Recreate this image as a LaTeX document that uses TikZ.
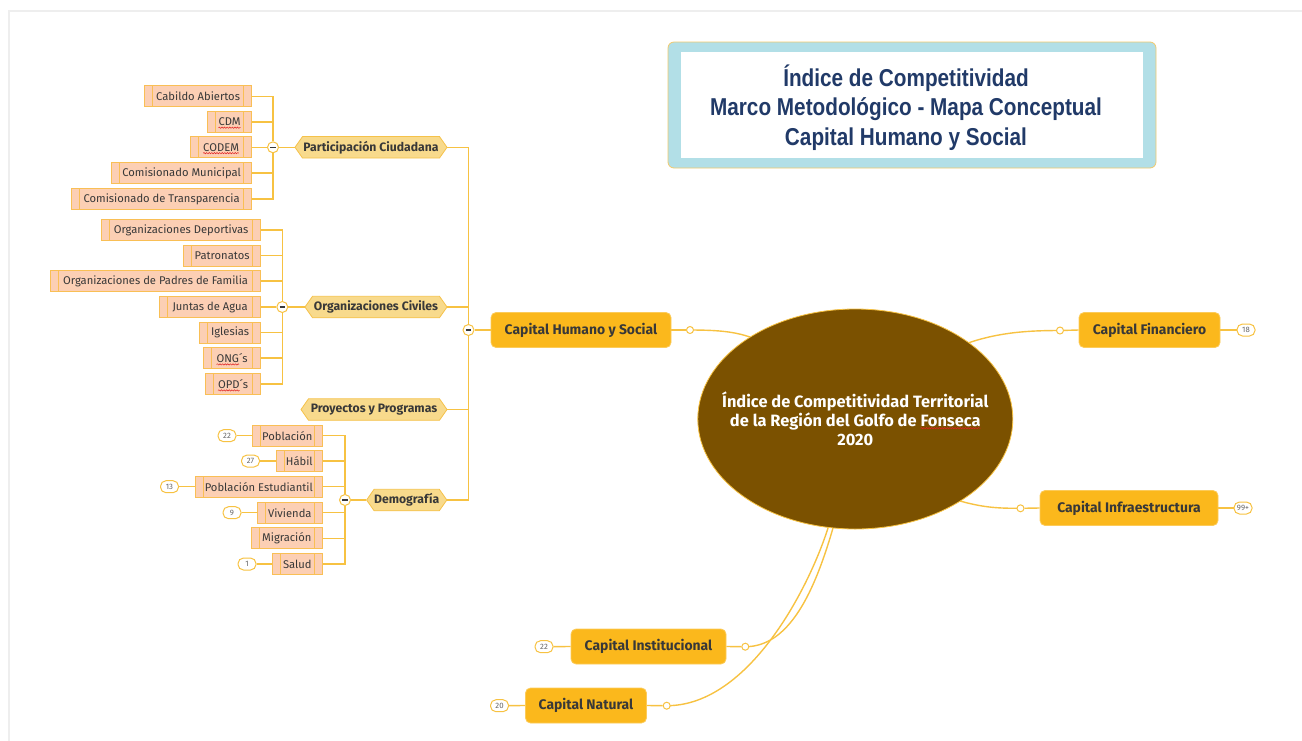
\documentclass[tikz,border=0pt]{standalone}
\usepackage{fontspec}
\setmainfont{Fira Sans}
\newfontfamily\titlefont{Liberation Sans}[FakeStretch=0.85]
\usetikzlibrary{shapes.geometric,shapes.symbols,decorations.pathmorphing}
\pgfdeclarelayer{bg}
\pgfsetlayers{bg,main}
\definecolor{lc}{HTML}{F7C242}
\definecolor{capfill}{HTML}{FBB81C}
\definecolor{capdraw}{HTML}{FCCB5A}
\definecolor{hexfill}{HTML}{F8DA8C}
\definecolor{hexdraw}{HTML}{F5C24A}
\definecolor{leaffill}{HTML}{FCCFB4}
\definecolor{leafdraw}{HTML}{F9BF55}
\definecolor{brownc}{HTML}{7B5100}
\definecolor{titletxt}{HTML}{213A68}
\definecolor{txt}{HTML}{383838}
\definecolor{badgetxt}{HTML}{666666}
\definecolor{tblue}{HTML}{B2DFE7}
\definecolor{tgold}{HTML}{F2C96B}
\definecolor{framegray}{HTML}{EEEEEE}
\definecolor{squigred}{HTML}{E02020}
\newsavebox\sqbox
\newcommand\squig[1]{\sbox\sqbox{#1}\tikz[overlay,baseline=0pt]{\draw[squigred,line width=0.5pt,decorate,decoration={snake,amplitude=0.65pt,segment length=2.6pt}] (0pt,-2pt) -- (\the\wd\sqbox,-2pt);}\usebox\sqbox}
\tikzset{
  conn/.style={draw=lc, line width=1.4pt},
  capbox/.style={rectangle, rounded corners=5pt, fill=capfill, draw=capdraw, line width=0.8pt, text=txt,
    font=\fontsize{13.9}{15}\selectfont\bfseries, minimum height=35pt, inner sep=0pt},
  hexbox/.style={signal, signal to=east and west, signal pointer angle=110, fill=hexfill, draw=hexdraw,
    line width=0.8pt, text=txt, font=\fontsize{12.2}{13}\selectfont\bfseries, minimum height=21.5pt, inner sep=0pt},
  leaf/.style={rectangle, fill=leaffill, draw=leafdraw, line width=0.8pt, text=txt,
    font=\fontsize{11.2}{12}\selectfont, minimum height=21pt, inner sep=0pt,
    path picture={\draw[leafdraw, line width=0.8pt] ([xshift=8pt]path picture bounding box.north west) -- ([xshift=8pt]path picture bounding box.south west);
      \draw[leafdraw, line width=0.8pt] ([xshift=-8pt]path picture bounding box.north east) -- ([xshift=-8pt]path picture bounding box.south east);}},
  badge/.style={rectangle, rounded corners=5.5pt, fill=white, draw=lc, line width=1pt, text=badgetxt,
    font=\fontsize{7.8}{8}\selectfont, minimum height=12pt, minimum width=18pt, inner sep=0pt},
  knob/.style={circle, fill=white, draw=lc, line width=1pt, minimum size=7pt, inner sep=0pt},
  fold/.style={circle, fill=white, draw=lc, line width=1pt, minimum size=11pt, inner sep=0pt,
    path picture={\draw[txt, line width=1.1pt] ([xshift=-2.6pt]path picture bounding box.center) -- ([xshift=2.6pt]path picture bounding box.center);}},
}
\begin{document}
\begin{tikzpicture}[x=1pt,y=-1pt]
\useasboundingbox (0,0) rectangle (1302,740);
\draw[framegray, line width=2pt] (9,741) -- (9,11) -- (1303,11);

% title
\node[rectangle, rounded corners=6pt, fill=tblue, draw=tgold, line width=0.8pt, minimum width=488pt, minimum height=126pt] (tbox) at (912,105) {};
\node[rectangle, fill=white, minimum width=462pt, minimum height=106pt] (tin) at (912,105) {};
\node[align=center, text=titletxt, font=\titlefont\bfseries\fontsize{24.4}{29.5}\selectfont] (ttl) at (906,107.5)
  {Índice de Competitividad\\Marco Metodológico - Mapa Conceptual\\Capital Humano y Social};

% central
\node[ellipse, minimum width=315pt, minimum height=220pt, inner sep=0pt, fill=brownc, draw=lc, line width=0.8pt] (E) at (855.3,419) {};
\node[align=center, text=white, inner sep=0pt, font=\fontsize{16.4}{19}\selectfont\bfseries] (Et) at (855.3,418.5)
  {Índice de Competitividad Territorial\\de la Región del Golfo de \squig{Fonseca}\\2020};
\coordinate (eH) at (750,337);
\coordinate (eF) at (968,343);
\coordinate (eI) at (960,501);
\coordinate (eS) at (833,528);
\coordinate (eN) at (828,528);

% main capitals
\node[capbox, minimum width=180pt] (ch) at (581,330) {Capital Humano y Social};
\node[capbox, minimum width=141pt] (cf) at (1149.5,330) {Capital Financiero};
\node[capbox, minimum width=178pt] (ci) at (1129,508) {Capital Infraestructura};
\node[capbox, minimum width=155pt] (cs) at (648.5,646.5) {Capital Institucional};
\node[capbox, minimum width=121pt] (cn) at (586,705.5) {Capital Natural};

\node[knob] (kh) at (690,330) {};
\node[knob] (kf) at (1060,330.5) {};
\node[knob] (ki) at (1020.5,508.3) {};
\node[knob] (ks) at (745.3,646.7) {};
\node[knob] (kn) at (666.7,705.7) {};

\node[badge] (bf) at (1246,330) {18};
\node[badge] (bi) at (1243,508) {99+};
\node[badge] (bs) at (544,646.7) {22};
\node[badge] (bn) at (499.5,705.7) {20};

% second level
\node[fold] (chf) at (468.5,330) {};
\node[hexbox, minimum width=152pt] (pc) at (371,147.3) {Participación Ciudadana};
\node[hexbox, minimum width=142pt] (oc) at (376,307) {Organizaciones Civiles};
\node[hexbox, minimum width=146pt] (pp) at (374,409.5) {Proyectos y Programas};
\node[hexbox, minimum width=80pt] (dm) at (406.7,500) {Demografía};

% participacion
\node[fold] (pcf) at (273,147.3) {};
\node[leaf, anchor=east, minimum width=107pt] (pc1) at (252,96.2) {Cabildo Abiertos};
\node[leaf, anchor=east, minimum width=44pt] (pc2) at (252,121.8) {\squig{CDM}};
\node[leaf, anchor=east, minimum width=61pt] (pc3) at (252,147.3) {\squig{CODEM}};
\node[leaf, anchor=east, minimum width=140pt] (pc4) at (252,173) {Comisionado Municipal};
\node[leaf, anchor=east, minimum width=180pt] (pc5) at (252,199) {Comisionado de Transparencia};

% organizaciones
\node[fold] (ocf) at (282.3,307) {};
\node[leaf, anchor=east, minimum width=159pt] (oc1) at (261,230) {Organizaciones Deportivas};
\node[leaf, anchor=east, minimum width=77pt] (oc2) at (261,255.5) {Patronatos};
\node[leaf, anchor=east, minimum width=210pt] (oc3) at (261,281) {Organizaciones de Padres de Familia};
\node[leaf, anchor=east, minimum width=101pt] (oc4) at (261,307) {Juntas de Agua};
\node[leaf, anchor=east, minimum width=61pt] (oc5) at (261,332.7) {Iglesias};
\node[leaf, anchor=east, minimum width=57pt] (oc6) at (261,358) {\squig{ONG}´s};
\node[leaf, anchor=east, minimum width=55pt] (oc7) at (261,384) {\squig{OPD}´s};

% demografia
\node[fold] (df) at (345,500) {};
\node[leaf, anchor=east, minimum width=70pt] (d1) at (322.7,435.7) {Población};
\node[leaf, anchor=east, minimum width=46pt] (d2) at (322.7,461) {Hábil};
\node[leaf, anchor=east, minimum width=127pt] (d3) at (322.7,486.7) {Población Estudiantil};
\node[leaf, anchor=east, minimum width=65pt] (d4) at (322.7,512.7) {Vivienda};
\node[leaf, anchor=east, minimum width=71pt] (d5) at (322.7,538.3) {Migración};
\node[leaf, anchor=east, minimum width=50pt] (d6) at (322.7,564) {Salud};
\node[badge] (b1) at (227,435.7) {22};
\node[badge] (b2) at (250.5,461) {27};
\node[badge] (b3) at (169.5,486.7) {13};
\node[badge] (b4) at (232,512.7) {9};
\node[badge] (b6) at (247,564) {1};

\begin{pgfonlayer}{bg}
  % central connectors
  \draw[conn] (ch.east) -- (kh);
  \draw[conn] (kh.center) .. controls (720,330) and (735,332) .. (eH);
  \draw[conn] (cf.west) -- (kf);
  \draw[conn] (eF) .. controls (1000,332) and (1030,330.5) .. (kf.center);
  \draw[conn] (ci.west) -- (ki);
  \draw[conn] (eI) .. controls (985,508) and (1000,508.3) .. (ki.center);
  \draw[conn] (cs.east) -- (ks);
  \draw[conn] (eS) .. controls (815,590) and (790,646.7) .. (ks.center);
  \draw[conn] (cn.east) -- (kn);
  \draw[conn] (eN) .. controls (810,585) and (750,705.7) .. (kn.center);
  \draw[conn] (cf.east) -- (bf);
  \draw[conn] (ci.east) -- (bi);
  \draw[conn] (cs.west) -- (bs);
  \draw[conn] (cn.west) -- (bn);
  % humano
  \draw[conn] (ch.west) -- (chf);
  \draw[conn] (pc.east) -| (chf);
  \draw[conn] (oc.east) -| (chf);
  \draw[conn] (pp.east) -| (chf);
  \draw[conn] (dm.east) -| (chf);
  % participacion
  \draw[conn] (pc.west) -- (pcf);
  \draw[conn] (pc1.east) -| (pcf);
  \draw[conn] (pc2.east) -| (pcf);
  \draw[conn] (pc3.east) -- (pcf);
  \draw[conn] (pc4.east) -| (pcf);
  \draw[conn] (pc5.east) -| (pcf);
  % organizaciones
  \draw[conn] (oc.west) -- (ocf);
  \draw[conn] (oc1.east) -| (ocf);
  \draw[conn] (oc2.east) -| (ocf);
  \draw[conn] (oc3.east) -| (ocf);
  \draw[conn] (oc4.east) -- (ocf);
  \draw[conn] (oc5.east) -| (ocf);
  \draw[conn] (oc6.east) -| (ocf);
  \draw[conn] (oc7.east) -| (ocf);
  % demografia
  \draw[conn] (dm.west) -- (df);
  \draw[conn] (d1.east) -| (df);
  \draw[conn] (d2.east) -| (df);
  \draw[conn] (d3.east) -| (df);
  \draw[conn] (d4.east) -| (df);
  \draw[conn] (d5.east) -| (df);
  \draw[conn] (d6.east) -| (df);
  \draw[conn] (d1.west) -- (b1);
  \draw[conn] (d2.west) -- (b2);
  \draw[conn] (d3.west) -- (b3);
  \draw[conn] (d4.west) -- (b4);
  \draw[conn] (d6.west) -- (b6);
\end{pgfonlayer}
\end{tikzpicture}
\end{document}
